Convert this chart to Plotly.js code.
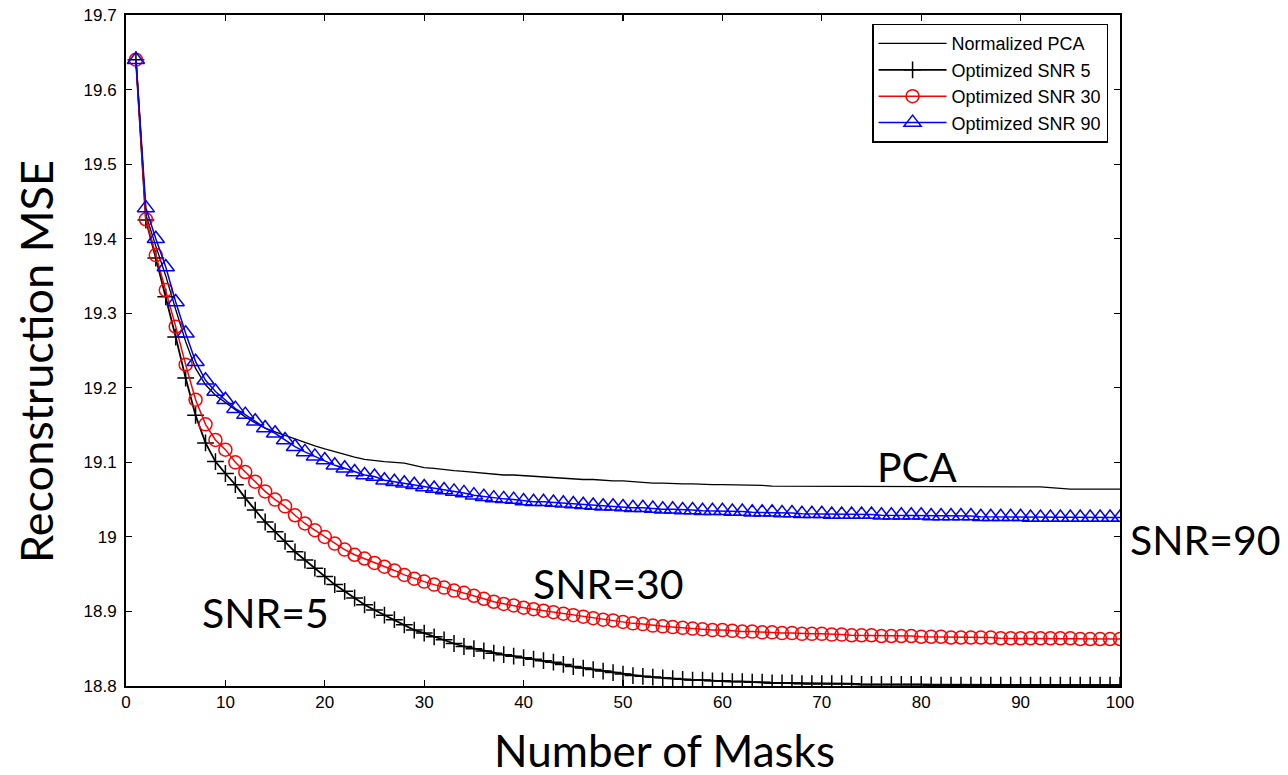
<!DOCTYPE html>
<html>
<head>
<meta charset="utf-8">
<script src="https://cdn.plot.ly/plotly-3.0.1.min.js"></script>
<style>html,body{margin:0;padding:0;background:#fff;}#chart{width:1288px;height:775px;}</style>
</head>
<body>
<div id="chart"></div>
<script>
// Number of masks (x) 1..100
const masks = [1,2,3,4,5,6,7,8,9,10,11,12,13,14,15,16,17,18,19,20,21,22,23,24,25,26,27,28,29,30,31,32,33,34,35,36,37,38,39,40,41,42,43,44,45,46,47,48,49,50,51,52,53,54,55,56,57,58,59,60,61,62,63,64,65,66,67,68,69,70,71,72,73,74,75,76,77,78,79,80,81,82,83,84,85,86,87,88,89,90,91,92,93,94,95,96,97,98,99,100];

const normalizedPCA = [19.640,19.432,19.390,19.350,19.305,19.262,19.226,19.204,19.190,19.180,
19.170,19.161,19.153,19.146,19.141,19.136,19.131,19.127,19.122,19.118,
19.114,19.110,19.107,19.104,19.102,19.101,19.100,19.099,19.096,19.093,
19.092,19.091,19.089,19.088,19.087,19.085,19.084,19.083,19.083,19.082,
19.081,19.080,19.080,19.079,19.078,19.077,19.077,19.076,19.075,19.075,
19.074,19.073,19.072,19.072,19.071,19.071,19.071,19.070,19.070,19.070,
19.070,19.069,19.069,19.069,19.068,19.068,19.068,19.068,19.067,19.067,
19.067,19.067,19.067,19.067,19.067,19.067,19.067,19.067,19.067,19.067,
19.067,19.067,19.067,19.067,19.067,19.067,19.067,19.067,19.067,19.067,
19.067,19.067,19.066,19.065,19.064,19.064,19.064,19.064,19.064,19.064];

const optSNR5 = [19.640,19.425,19.374,19.322,19.268,19.213,19.163,19.126,19.101,19.085,
19.070,19.052,19.036,19.020,19.007,18.994,18.980,18.969,18.958,18.947,
18.936,18.927,18.918,18.909,18.902,18.895,18.889,18.882,18.875,18.871,
18.866,18.862,18.857,18.853,18.850,18.847,18.844,18.842,18.840,18.838,
18.836,18.834,18.832,18.829,18.826,18.824,18.822,18.820,18.818,18.816,
18.814,18.813,18.812,18.811,18.810,18.809,18.808,18.808,18.807,18.807,
18.806,18.806,18.805,18.805,18.804,18.804,18.804,18.803,18.803,18.803,
18.803,18.803,18.803,18.802,18.802,18.802,18.802,18.802,18.802,18.802,
18.801,18.801,18.801,18.801,18.801,18.801,18.801,18.801,18.801,18.801,
18.801,18.801,18.801,18.801,18.801,18.801,18.801,18.801,18.801,18.801];

const optSNR30 = [19.640,19.426,19.378,19.331,19.282,19.231,19.184,19.151,19.130,19.117,
19.100,19.087,19.074,19.061,19.050,19.041,19.029,19.018,19.009,19.000,
18.991,18.983,18.976,18.971,18.965,18.960,18.955,18.949,18.944,18.940,
18.936,18.932,18.928,18.925,18.921,18.917,18.913,18.910,18.908,18.905,
18.903,18.901,18.899,18.897,18.895,18.893,18.891,18.889,18.888,18.886,
18.884,18.883,18.881,18.880,18.879,18.878,18.877,18.876,18.875,18.875,
18.874,18.873,18.873,18.872,18.872,18.871,18.871,18.870,18.870,18.870,
18.869,18.869,18.868,18.868,18.868,18.867,18.867,18.867,18.867,18.866,
18.866,18.866,18.865,18.865,18.865,18.865,18.865,18.864,18.864,18.864,
18.864,18.864,18.864,18.864,18.864,18.863,18.863,18.863,18.863,18.863];

const optSNR90 = [19.640,19.441,19.400,19.362,19.315,19.273,19.235,19.210,19.195,19.184,
19.172,19.164,19.155,19.146,19.139,19.130,19.121,19.114,19.108,19.103,
19.096,19.092,19.087,19.083,19.081,19.076,19.074,19.072,19.070,19.067,
19.065,19.063,19.061,19.059,19.056,19.054,19.052,19.051,19.050,19.048,
19.047,19.047,19.046,19.045,19.044,19.043,19.042,19.041,19.041,19.040,
19.039,19.039,19.038,19.037,19.037,19.036,19.036,19.035,19.035,19.035,
19.034,19.034,19.033,19.033,19.033,19.032,19.032,19.031,19.031,19.031,
19.030,19.030,19.030,19.030,19.030,19.029,19.029,19.029,19.029,19.029,
19.028,19.028,19.028,19.028,19.028,19.027,19.027,19.027,19.027,19.027,
19.026,19.026,19.026,19.026,19.026,19.026,19.026,19.026,19.026,19.026];

const seriesNames = ['Normalized PCA','Optimized SNR 5','Optimized SNR 30','Optimized SNR 90'];
const xTicks = [0,10,20,30,40,50,60,70,80,90,100];
const yTicks = [18.8,18.9,19,19.1,19.2,19.3,19.4,19.5,19.6,19.7];
const curveLabels = ['PCA','SNR=90','SNR=30','SNR=5'];
const labelX = [79.6, 108.6, 48.5, 14];
const labelY = [19.094, 18.996, 18.938, 18.899];
const xTitle = 'Number of Masks';
const yTitle = 'Reconstruction MSE';

const traces = [
  {x: masks, y: normalizedPCA, name: seriesNames[0], mode: 'lines', type: 'scatter',
   line: {color: '#000', width: 1.3}},
  {x: masks, y: optSNR5, name: seriesNames[1], mode: 'lines+markers', type: 'scatter',
   line: {color: '#000', width: 1.8},
   marker: {symbol: 'cross-thin-open', size: 12, color: '#000', line: {color: '#000', width: 1.5}}},
  {x: masks, y: optSNR30, name: seriesNames[2], mode: 'lines+markers', type: 'scatter',
   line: {color: '#ff0000', width: 1.5},
   marker: {symbol: 'circle-open', size: 13, color: '#ff0000', line: {color: '#ff0000', width: 1.5}}},
  {x: masks, y: optSNR90, name: seriesNames[3], mode: 'lines+markers', type: 'scatter',
   line: {color: '#0000ff', width: 1.5},
   marker: {symbol: 'triangle-up-open', size: 15, color: '#0000ff', line: {color: '#0000ff', width: 1.5}}}
];

// convert data x to paper x so labels outside the plot area are still drawn
const xr = [0, 100];
const annFont = {family: 'Lato, Carlito, sans-serif', size: 41, color: '#000'};
const titleFont = {family: 'Lato, Carlito, sans-serif', size: 44, color: '#000'};
const annotations = curveLabels.map((t, i) => ({
  x: (labelX[i] - xr[0]) / (xr[1] - xr[0]), y: labelY[i], xref: 'paper', yref: 'y', text: t, showarrow: false,
  font: annFont, xanchor: 'center', yanchor: 'middle'
}));
annotations.push({x: 0.542, y: -0.095, xref: 'paper', yref: 'paper', text: xTitle, showarrow: false,
  font: titleFont, xanchor: 'center', yanchor: 'middle'});
annotations.push({x: -0.0905, y: 0.483, xref: 'paper', yref: 'paper', text: yTitle, showarrow: false,
  font: {family: 'Lato, Carlito, sans-serif', size: 45, color: '#000'}, xanchor: 'center', yanchor: 'middle', textangle: -90});

const layout = {
  width: 1288, height: 775,
  margin: {l: 126, r: 168, t: 15, b: 89, pad: 0},
  paper_bgcolor: '#fff', plot_bgcolor: '#fff',
  showlegend: true,
  font: {family: 'Liberation Sans, Arial, sans-serif', size: 17, color: '#000'},
  xaxis: {
    range: xr, tickvals: xTicks, ticks: 'inside', ticklen: 6, tickwidth: 1.2, tickcolor: '#000',
    showline: true, linecolor: '#000', linewidth: 2, mirror: 'ticks', showgrid: false, zeroline: false,
    tickfont: {family: 'Liberation Sans, Arial, sans-serif', size: 17},
    automargin: false
  },
  yaxis: {
    range: [18.8, 19.7], tickvals: yTicks, ticks: 'inside', ticklen: 6, tickwidth: 1.2, tickcolor: '#000',
    showline: true, linecolor: '#000', linewidth: 2, mirror: 'ticks', showgrid: false, zeroline: false,
    tickfont: {family: 'Liberation Sans, Arial, sans-serif', size: 17},
    ticklabelstandoff: 4,
    automargin: false
  },
  legend: {
    x: 0.988, y: 0.987, xanchor: 'right', yanchor: 'top',
    bgcolor: '#fff', bordercolor: '#000', borderwidth: 1.5,
    font: {family: 'Liberation Sans, Arial, sans-serif', size: 18, color: '#000'},
    itemwidth: 68, tracegroupgap: 0
  },
  annotations: annotations
};

Plotly.newPlot('chart', traces, layout, {displayModeBar: false, staticPlot: true});
</script>
</body>
</html>
